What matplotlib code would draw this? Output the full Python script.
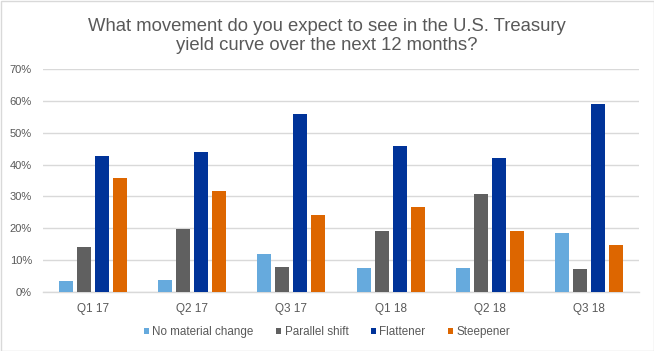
import numpy as np
import matplotlib.pyplot as plt
from matplotlib.patches import Rectangle

plt.rcParams['font.family'] = ['Liberation Sans', 'DejaVu Sans']

quarters = ['Q1 17', 'Q2 17', 'Q3 17', 'Q1 18', 'Q2 18', 'Q3 18']
no_change = [3.6, 3.9, 12.0, 7.6, 7.6, 18.6]
parallel = [14.2, 19.9, 7.9, 19.2, 30.9, 7.3]
flattener = [42.8, 44.0, 56.0, 45.9, 42.2, 59.1]
steepener = [35.7, 31.8, 24.1, 26.8, 19.2, 14.9]

series = [('No material change', no_change, '#66aadd'),
          ('Parallel shift', parallel, '#606060'),
          ('Flattener', flattener, '#003399'),
          ('Steepener', steepener, '#dd6600')]

txt = '#595959'
grid = '#d9d9d9'

fig = plt.figure(figsize=(6.54, 3.51), dpi=100)
ax = fig.add_axes([43/654, 1-292/351, 596/654, 223/351])

x = np.arange(len(quarters))
w = 0.141
step = 0.181
for i, (name, vals, col) in enumerate(series):
    ax.bar(x + (i - 1.5) * step, vals, width=w, color=col, label=name, zorder=3)

ax.set_xlim(-0.5, len(quarters) - 0.5)
ax.set_ylim(0, 70)
ax.set_yticks(np.arange(0, 71, 10))
ax.set_yticklabels([f'{v}%' for v in range(0, 71, 10)])
ax.set_xticks(x)
ax.set_xticklabels(quarters)
ax.tick_params(axis='both', length=0, labelcolor=txt)
ax.tick_params(axis='x', pad=8, labelsize=8.5)
ax.tick_params(axis='y', pad=8, labelsize=8)
ax.yaxis.grid(True, color=grid, linewidth=1, zorder=0)
for s in ['top', 'right', 'left']:
    ax.spines[s].set_visible(False)
ax.spines['bottom'].set_color(grid)
ax.spines['bottom'].set_linewidth(1)

fig.text(0.5, 1 - 36/351, 'What movement do you expect to see in the U.S. Treasury\nyield curve over the next 12 months?',
         ha='center', va='center', fontsize=13.3, color=txt, linespacing=1.1)

fig.legend(loc='center', bbox_to_anchor=(0.5, 1 - 332/351), ncol=4, frameon=False,
           fontsize=8.4, labelcolor=txt, handlelength=0.45, handleheight=0.45,
           handletextpad=0.3, columnspacing=1.9)

fig.patches.append(Rectangle((0.5/654, 0.5/351), 1 - 1/654, 1 - 1/351, transform=fig.transFigure,
                             fill=False, edgecolor=grid, linewidth=1))

fig.savefig('out.png', dpi=100)
